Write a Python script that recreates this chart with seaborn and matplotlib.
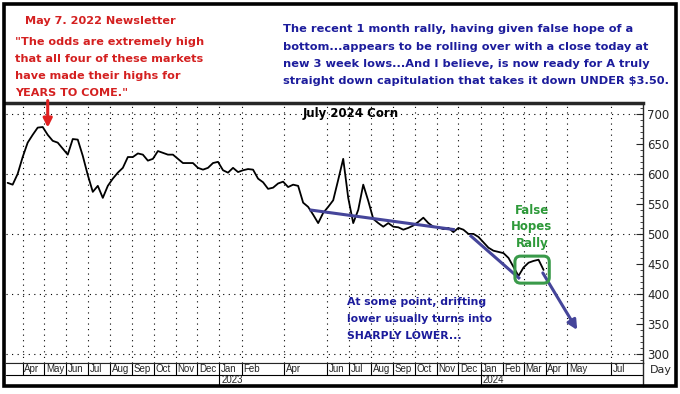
import pandas as pd
import matplotlib.pyplot as plt
import matplotlib.dates as mdates
import seaborn as sns
from matplotlib.ticker import MultipleLocator
from matplotlib.patches import Rectangle, FancyBboxPatch

# weekly closes of July 2024 corn (cents/bu)
start = "2022-03-11"
close = [585, 582, 600, 628, 652, 665, 677, 678, 665, 655,
         652, 642, 632, 658, 657, 630, 598, 570, 580, 560,
         580, 592, 602, 610, 628, 628, 634, 632, 622, 625,
         638, 635, 632, 632, 625, 618, 618, 618, 610, 607,
         610, 618, 620, 606, 602, 610, 603, 606, 608, 607,
         592, 586, 575, 577, 584, 587, 578, 582, 580, 552,
         545, 532, 518, 535, 545, 556, 590, 625, 560, 518,
         540, 582, 555, 525, 518, 512, 518, 512, 511, 507,
         510, 514, 520, 527, 518, 512, 511, 508, 510, 503,
         510, 507, 500, 500, 495, 486, 477, 472, 470, 468,
         460, 445, 430, 444, 452, 455, 457, 440]

label_months = ["2022-04", "2022-05", "2022-06", "2022-07", "2022-08", "2022-09",
                "2022-10", "2022-11", "2022-12", "2023-01", "2023-02", "2023-04",
                "2023-06", "2023-07", "2023-08", "2023-09", "2023-10", "2023-11",
                "2023-12", "2024-01", "2024-02", "2024-03", "2024-04", "2024-05",
                "2024-07"]
year_starts = ["2023-01", "2024-01"]
grid_levels = [300, 400, 500, 600, 700]

trend1 = (["2023-05-07", "2023-11-26"], [540, 507])
trend2 = (["2023-12-17", "2024-02-25"], [498, 425])
drop_arrow = (["2024-03-28", "2024-05-15"], [435, 340])
peak_arrow = ("2022-05-06", 722, 677)
rally_box = ("2024-02-18", "2024-04-06", 418, 463)

df = pd.DataFrame({"Date": pd.date_range(start, periods=len(close), freq="7D"),
                   "Close": close})

sns.set_style("white")
plt.rcParams["font.family"] = ["DejaVu Sans"]

W, H = 680, 394
fig = plt.figure(figsize=(6.8, 3.94), dpi=100)


def box(l, t, r, b):
    return [l / W, 1 - b / H, (r - l) / W, (b - t) / H]


ax = fig.add_axes(box(5.5, 103, 643, 363))
sns.lineplot(data=df, x="Date", y="Close", color="black", lw=1.3, ax=ax)
ax.set_xlim(pd.Timestamp("2022-03-08"), pd.Timestamp("2024-08-15"))
ax.set_ylim(285, 718)
ax.set_xlabel("")
ax.set_ylabel("")

dot = (0, (1, 4))
for m in label_months:
    ax.axvline(pd.Timestamp(m), color="black", lw=0.8, ls=dot, zorder=0)
for lv in grid_levels:
    ax.axhline(lv, color="black", lw=0.8, ls=dot, zorder=0)
ax.set_xticks([])

ax.yaxis.tick_right()
ax.yaxis.set_major_locator(MultipleLocator(50))
ax.yaxis.set_minor_locator(MultipleLocator(10))
ax.tick_params(axis="y", which="major", direction="in", length=5, width=0.8,
               labelsize=8.5, pad=3, right=True, left=False)
ax.tick_params(axis="y", which="minor", direction="in", length=2.5, width=0.6,
               right=True, left=False)
ax.spines["left"].set_visible(False)
ax.spines["bottom"].set_linewidth(0.8)
ax.spines["right"].set_linewidth(1.0)
ax.spines["top"].set_linewidth(2.5)

blue = "#45459a"
ax.plot(pd.to_datetime(trend1[0]), trend1[1], color=blue, lw=2.2, solid_capstyle="butt")
ax.plot(pd.to_datetime(trend2[0]), trend2[1], color=blue, lw=2.2, solid_capstyle="butt")
ax.annotate("", xy=(pd.Timestamp(drop_arrow[0][1]), drop_arrow[1][1]),
            xytext=(pd.Timestamp(drop_arrow[0][0]), drop_arrow[1][0]),
            arrowprops=dict(arrowstyle="-|>", color=blue, lw=2.2, mutation_scale=14,
                            shrinkA=0, shrinkB=0))
ax.annotate("", xy=(pd.Timestamp(peak_arrow[0]), peak_arrow[2]),
            xytext=(pd.Timestamp(peak_arrow[0]), peak_arrow[1]),
            arrowprops=dict(arrowstyle="-|>", color="#e02020", lw=2.2, mutation_scale=13,
                            shrinkA=0, shrinkB=0),
            annotation_clip=False)

x0 = mdates.date2num(pd.Timestamp(rally_box[0]))
x1 = mdates.date2num(pd.Timestamp(rally_box[1]))
ax.add_patch(FancyBboxPatch((x0, rally_box[2]), x1 - x0, rally_box[3] - rally_box[2],
                            boxstyle="round,pad=0,rounding_size=8", mutation_aspect=1.19,
                            fill=False, ec="#3a9a4a", lw=2.2, zorder=4))

# date strip under the chart
ax2 = fig.add_axes(box(5.5, 363, 643, 386))
ax2.set_xlim(ax.get_xlim())
ax2.set_ylim(0, 1)
ax2.set_xticks([])
ax2.set_yticks([])
for s in ["left", "bottom"]:
    ax2.spines[s].set_visible(False)
ax2.spines["top"].set_linewidth(0.8)
ax2.spines["right"].set_linewidth(1.0)
ax2.axhline(0.48, color="black", lw=0.8)
for m in label_months:
    d = pd.Timestamp(m)
    ax2.plot([d, d], [0.48, 1], color="black", lw=0.8)
    ax2.annotate(d.strftime("%b"), (d, 0.74), xytext=(1.2, 0), textcoords="offset points",
                 ha="left", va="center", fontsize=7, family="Liberation Sans")
for y in year_starts:
    d = pd.Timestamp(y)
    ax2.plot([d, d], [0, 0.48], color="black", lw=0.8)
    ax2.annotate(d.strftime("%Y"), (d, 0.24), xytext=(1.2, 0), textcoords="offset points",
                 ha="left", va="center", fontsize=7, family="Liberation Sans")

fig.text(650 / W, 1 - 370 / H, "Day", fontsize=8, va="center", ha="left")

# outer frame
fig.add_artist(Rectangle((3.5 / W, 1 - 386 / H), 672 / W, 382 / H, transform=fig.transFigure,
                         fill=False, ec="black", lw=2.6))


def txt(x, y, s, **kw):
    fig.text(x / W, 1 - y / H, s, fontweight="bold", va="center", **kw)


red = "#d42020"
txt(25, 21, "May 7. 2022 Newsletter", color=red, fontsize=8.1)
red_lines = ['"The odds are extremely high', "that all four of these markets",
             "have made their highs for", 'YEARS TO COME."']
for i, s in enumerate(red_lines):
    txt(15, 42 + i * 17, s, color=red, fontsize=8.1)

navy = "#1c1c9c"
blue_lines = ["The recent 1 month rally, having given false hope of a",
              "bottom...appears to be rolling over with a close today at",
              "new 3 week lows...And I believe, is now ready for A truly",
              "straight down capitulation that takes it down UNDER $3.50."]
for i, s in enumerate(blue_lines):
    txt(283, 29 + i * 17.5, s, color=navy, fontsize=8.2)

txt(351, 114, "July 2024 Corn", color="black", fontsize=8.5, ha="center")
for i, s in enumerate(["False", "Hopes", "Rally"]):
    txt(532, 210 + i * 16.5, s, color="#2e9a3a", fontsize=8.5, ha="center")
for i, s in enumerate(["At some point, drifting", "lower usually turns into",
                       "SHARPLY LOWER..."]):
    txt(347, 302 + i * 17, s, color=navy, fontsize=7.8)

fig.savefig("out.png", dpi=100)
